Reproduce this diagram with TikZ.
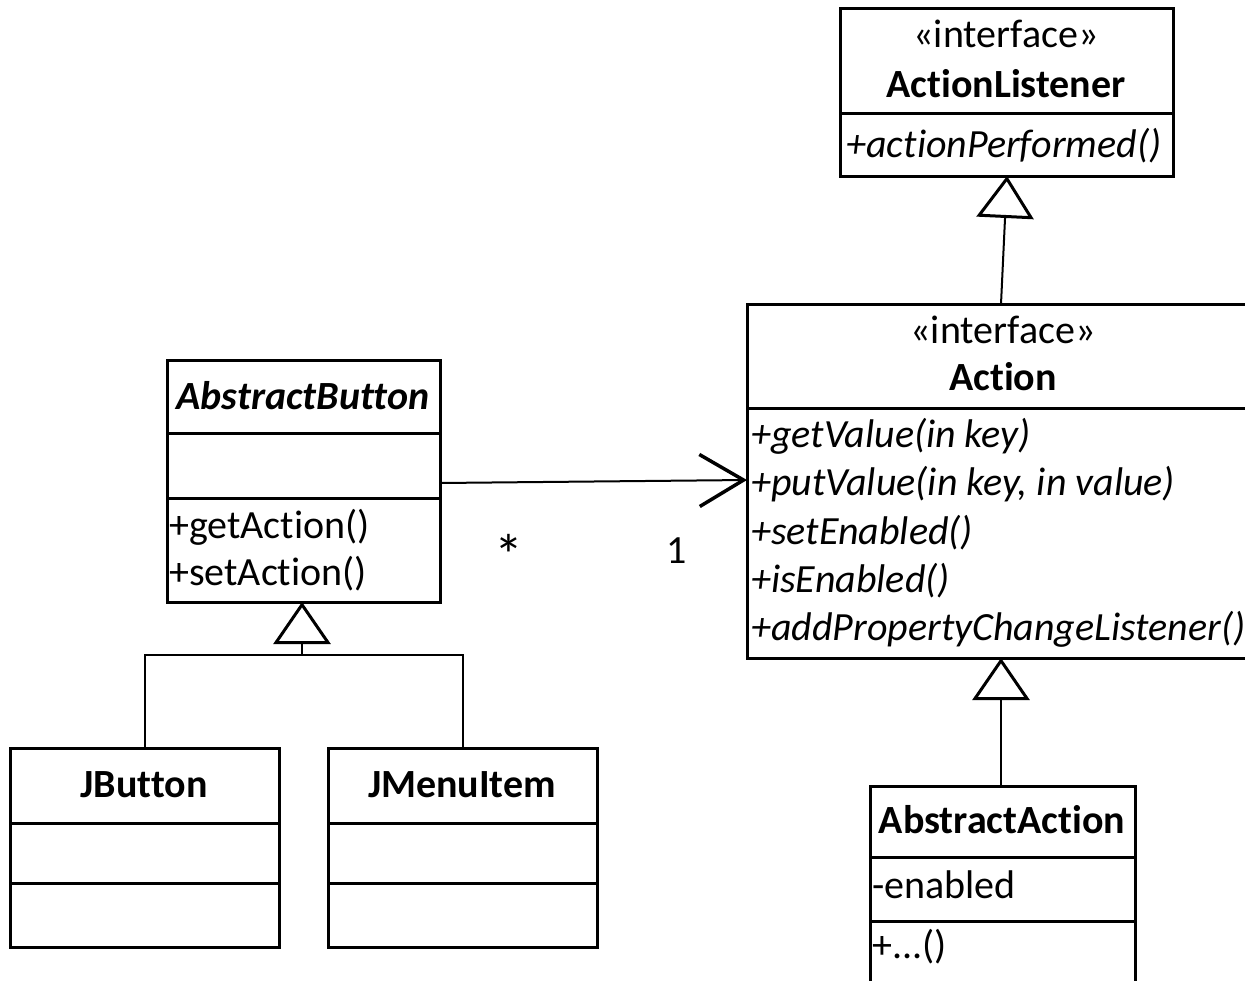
\documentclass[tikz,border=0pt]{standalone}
\usepackage{fontspec}
\setmainfont{Carlito}[Ligatures={NoCommon}]
\usetikzlibrary{arrows.meta}
\begin{document}
\begin{tikzpicture}[x=1pt,y=-1pt,
  every node/.style={font=\fontsize{40}{48}\selectfont},
  classbox/.style={draw, line width=3pt, anchor=north west, inner sep=0pt, outer sep=0pt},
  divider/.style={line width=3pt},
  txt/.style={inner sep=0pt, anchor=base},
  ltxt/.style={inner sep=0pt, anchor=base west},
  assoc/.style={line width=2pt, -{Straight Barb[length=44pt, width=52pt, line width=3.5pt]}},
  gen/.style={line width=2pt, -{Triangle[open, length=42pt, width=57pt, line width=3pt]}},
  tree/.style={line width=2pt}
]
\useasboundingbox (0,0) rectangle (1245,980);
\clip (0,0) rectangle (1245,980);

% ---- ActionListener interface ----
\node[classbox, minimum width=333pt, minimum height=168pt] (al) at (840,8) {};
\draw[divider] (al.west |- 0,113) -- (al.east |- 0,113);
\node[txt] (alst) at (1006,47) {«interface»};
\node[txt] (alname) at (1006,97) {\bfseries ActionListener};
\node[txt] (alop) at (1004,157) {\itshape +actionPerformed()};

% ---- Action interface (runs off the right edge) ----
\node[classbox, minimum width=512pt, minimum height=354pt] (act) at (747,304) {};
\draw[divider] (act.west |- 0,408) -- (act.east |- 0,408);
\node[txt] (actst) at (1003,343) {«interface»};
\node[txt] (actname) at (1003,390) {\bfseries Action};
\node[ltxt] (op1) at (751,447) {\itshape +getValue(in key)};
\node[ltxt] (op2) at (751,495) {\itshape +putValue(in key, in value)};
\node[ltxt] (op3) at (751,544) {\itshape +setEnabled()};
\node[ltxt] (op4) at (751,592) {\itshape +isEnabled()};
\node[ltxt] (op5) at (751,640) {\itshape +addPropertyChangeListener()};

% ---- AbstractButton ----
\node[classbox, minimum width=273pt, minimum height=242pt] (ab) at (167,360) {};
\draw[divider] (ab.west |- 0,433) -- (ab.east |- 0,433);
\draw[divider] (ab.west |- 0,498) -- (ab.east |- 0,498);
\node[txt] (abname) at (303,409) {\bfseries\itshape AbstractButton};
\node[ltxt] (abop1) at (169,538) {+getAction()};
\node[ltxt] (abop2) at (169,585) {+setAction()};

% ---- JButton ----
\node[classbox, minimum width=269pt, minimum height=199pt] (jb) at (10,748) {};
\draw[divider] (jb.west |- 0,823) -- (jb.east |- 0,823);
\draw[divider] (jb.west |- 0,883) -- (jb.east |- 0,883);
\node[txt] (jbname) at (144,797) {\bfseries JButton};

% ---- JMenuItem ----
\node[classbox, minimum width=269pt, minimum height=199pt] (jm) at (328,748) {};
\draw[divider] (jm.west |- 0,823) -- (jm.east |- 0,823);
\draw[divider] (jm.west |- 0,883) -- (jm.east |- 0,883);
\node[txt] (jmname) at (462,797) {\bfseries JMenuItem};

% ---- AbstractAction (runs off the bottom edge) ----
\node[classbox, minimum width=265pt, minimum height=230pt] (aa) at (870,786) {};
\draw[divider] (aa.west |- 0,857) -- (aa.east |- 0,857);
\draw[divider] (aa.west |- 0,921) -- (aa.east |- 0,921);
\node[txt] (aaname) at (1002,833) {\bfseries AbstractAction};
\node[ltxt] (aaattr) at (872,898) {-enabled};
\node[ltxt] (aaop) at (872,958) {+...()};

% ---- association AbstractButton -> Action ----
\draw[assoc] (ab.east |- 0,483) -- (act.west |- 0,480);
\node[txt, font=\fontsize{58}{60}\selectfont] (mstar) at (509,575) {*};
\node[txt] (mone) at (677,563) {1};

% ---- generalizations ----
\draw[gen] (act.north -| 1001,0) -- (al.south -| 1007,0);
\draw[gen] (aa.north -| 1001,0) -- (act.south -| 1001,0);
\coordinate (join) at (302,655);
\draw[tree] (jb.north -| 145,0) |- (join);
\draw[tree] (jm.north -| 463,0) |- (join);
\draw[gen] (join) -- (ab.south -| 302,0);
\end{tikzpicture}
\end{document}
